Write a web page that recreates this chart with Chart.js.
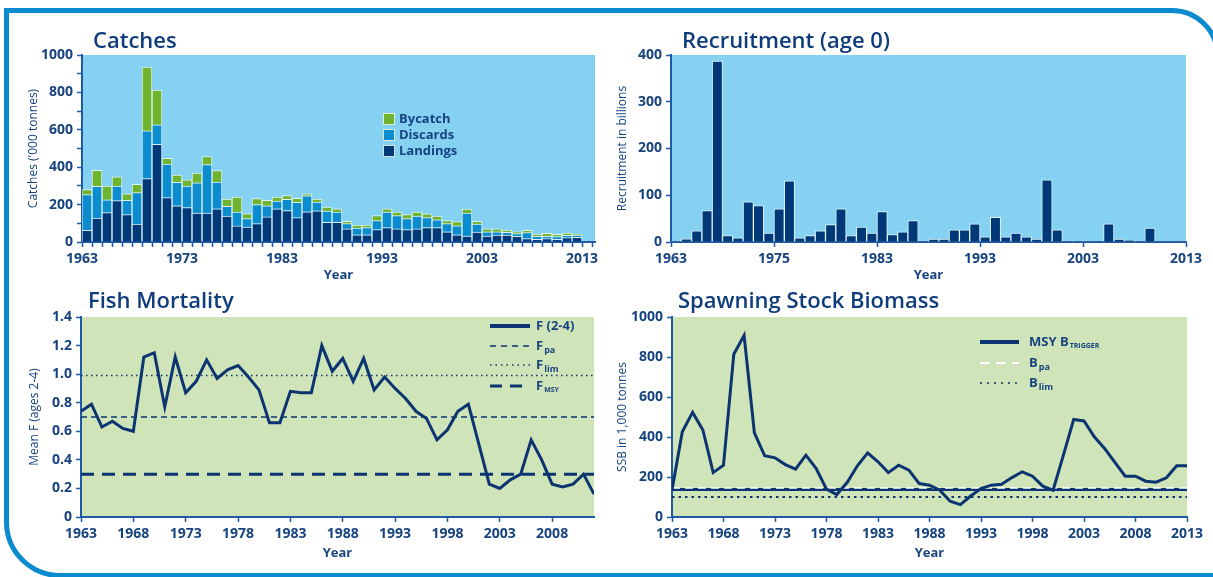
<!DOCTYPE html>
<html>
<head>
<meta charset="utf-8">
<title>Catches, recruitment, F and SSB</title>
<script src="https://cdn.jsdelivr.net/npm/chart.js@4.4.1/dist/chart.umd.min.js"></script>
<style>
  body { margin:0; background:#fff; width:1213px; height:577px; overflow:hidden; position:relative; }
  #marco { position:absolute; left:4px; top:8px; width:1216px; height:570px; box-sizing:border-box;
           border:5px solid #0a8bcf; border-radius:0 48px 0 56px; }
  canvas { position:absolute; }
</style>
</head>
<body>
<div id="marco"></div>
<canvas id="cCatches" width="600" height="275" style="left:10px;top:15px"></canvas>
<canvas id="cRecruit" width="608" height="275" style="left:605px;top:15px"></canvas>
<canvas id="cFish" width="600" height="285" style="left:10px;top:285px"></canvas>
<canvas id="cSsb" width="608" height="285" style="left:605px;top:285px"></canvas>
<script>
// años 1963-2012 (barras y F), SSB llega a 2013
const years = [1963,1964,1965,1966,1967,1968,1969,1970,1971,1972,1973,1974,1975,1976,1977,1978,1979,1980,1981,1982,
  1983,1984,1985,1986,1987,1988,1989,1990,1991,1992,1993,1994,1995,1996,1997,1998,1999,2000,2001,2002,
  2003,2004,2005,2006,2007,2008,2009,2010,2011,2012];
const ssbYears = [1963,1964,1965,1966,1967,1968,1969,1970,1971,1972,1973,1974,1975,1976,1977,1978,1979,1980,1981,1982,
  1983,1984,1985,1986,1987,1988,1989,1990,1991,1992,1993,1994,1995,1996,1997,1998,1999,2000,2001,2002,
  2003,2004,2005,2006,2007,2008,2009,2010,2011,2012,2013];

// capturas ('000 t)
const landings = [62,128,157,221,146,96,339,522,237,194,184,155,155,178,139,86,80,98,134,178,
  168,130,162,167,105,105,70,39,39,66,77,70,66,70,77,77,55,39,32,53,
  32,37,37,30,18,14,18,14,23,25];
const discards = [191,170,69,78,77,168,256,105,180,125,115,162,259,143,52,74,45,102,60,41,
  60,82,85,47,61,55,28,36,38,48,83,71,59,69,53,42,43,47,123,43,
  23,18,15,15,32,16,12,15,13,10];
const bycatch = [27,85,73,50,34,44,340,185,31,39,34,51,43,61,39,80,27,32,29,21,
  20,21,10,15,21,18,13,16,14,27,18,19,21,21,20,20,16,23,21,15,
  15,15,12,10,12,13,16,12,12,6];

// reclutamiento (billones)
const recruitment = [2,7,24,67,387,14,9,86,78,19,71,131,9,14,24,37,71,14,32,19,
  65,16,22,46,2,6,6,26,26,39,11,53,11,19,11,6,133,26,2,2,
  2,2,39,6,4,2,30,1,1,3];

// mortalidad por pesca
const fishF = [0.74,0.79,0.63,0.67,0.62,0.60,1.12,1.15,0.77,1.12,0.87,0.95,1.10,0.97,1.03,1.06,0.98,0.89,0.66,0.66,
  0.88,0.87,0.87,1.20,1.02,1.11,0.95,1.11,0.89,0.98,0.90,0.83,0.74,0.69,0.54,0.61,0.74,0.79,0.51,0.23,
  0.20,0.26,0.30,0.54,0.40,0.23,0.21,0.23,0.30,0.16];
const fPa = 0.7, fLim = 0.99, fMsy = 0.3;

// biomasa reproductora ('000 t)
const ssb = [134,426,523,435,222,259,814,908,421,306,296,262,239,309,242,139,112,172,256,321,
  276,222,259,234,167,159,134,79,62,105,142,159,164,197,226,204,154,134,309,488,
  480,401,343,273,204,204,179,174,196,256,256];
const bTrigger = 138, bPa = 145, bLim = 100;

// ticks
const catchYTicks = [0,100,200,300,400,500,600,700,800,900,1000];
const catchXTicks = [1963,1964,1965,1966,1967,1968,1969,1970,1971,1972,1973,1974,1975,1976,1977,1978,1979,1980,1981,1982,
  1983,1984,1985,1986,1987,1988,1989,1990,1991,1992,1993,1994,1995,1996,1997,1998,1999,2000,2001,2002,
  2003,2004,2005,2006,2007,2008,2009,2010,2011,2012,2013,2014];
const catchXLabels = [1963,1973,1983,1993,2003,2013];
const recYTicks = [0,100,200,300,400];
const recXTicks = [1963,1973,1983,1993,2003,2013];
const recXLabels = ['1963','1975','1983','1993','2003','2013'];
const fYTicks = [0,0.2,0.4,0.6,0.8,1.0,1.2,1.4];
const fXTicks = [1963,1968,1973,1978,1983,1988,1993,1998,2003,2008];
const ssbYTicks = [0,200,400,600,800,1000];
const ssbXTicks = [1963,1968,1973,1978,1983,1988,1993,1998,2003,2008,2013];

const NAVY = '#0b3470';
const AXIS = '#1f5aa6';
const TEXT = '#17437f';

Chart.defaults.font.family = "'Open Sans', sans-serif";
Chart.defaults.color = TEXT;
Chart.defaults.animation = false;
Chart.defaults.responsive = false;
Chart.defaults.plugins.legend.display = false;
Chart.defaults.plugins.tooltip.enabled = false;

// fondo del area, titulo y leyenda
const deco = {
  id: 'deco',
  beforeDraw(chart, args, o) {
    const {ctx, chartArea: a} = chart;
    ctx.save();
    ctx.fillStyle = o.bg;
    ctx.fillRect(a.left, a.top, a.right - a.left, a.bottom - a.top);
    ctx.restore();
  },
  afterDraw(chart, args, o) {
    const {ctx, chartArea: a} = chart;
    ctx.save();
    ctx.fillStyle = '#0f3c7a';
    ctx.font = "600 22px 'Open Sans'";
    ctx.textBaseline = 'middle';
    ctx.fillText(o.title, a.left + o.tx, o.ty);
    o.items.forEach((it, i) => {
      const y = a.top + o.ly[i];
      const x = a.left + o.lx;
      if (it.box) {
        ctx.fillStyle = it.box;
        ctx.fillRect(x, y - 6, 12, 12);
        ctx.strokeStyle = 'rgba(235,245,225,0.9)';
        ctx.lineWidth = 1;
        ctx.strokeRect(x + 0.5, y - 5.5, 11, 11);
      } else {
        ctx.strokeStyle = it.color;
        ctx.lineWidth = it.width;
        ctx.setLineDash(it.dash || []);
        ctx.beginPath();
        ctx.moveTo(x, y);
        ctx.lineTo(x + o.lw, y);
        ctx.stroke();
        ctx.setLineDash([]);
      }
      ctx.fillStyle = TEXT;
      ctx.font = "bold 13px 'Open Sans'";
      ctx.fillText(it.text, a.left + o.textX, y);
      if (it.sub) {
        const w = ctx.measureText(it.text).width;
        ctx.font = it.subFont || "bold 9px 'Open Sans'";
        ctx.fillText(it.sub, a.left + o.textX + w + 1, y + 4);
      }
    });
    ctx.restore();
  }
};

function ejeY(min, max, ticks, fmt, width, titleText, titlePad, apilado) {
  return {
    min: min, max: max, stacked: apilado,
    afterBuildTicks: s => { s.ticks = ticks.map(v => ({value: v})); },
    afterFit: s => { s.width = width; },
    ticks: { callback: fmt, autoSkip: false, font: {size: 14, weight: 'bold'}, padding: 4, color: TEXT },
    grid: { drawOnChartArea: false, tickLength: 5, tickColor: AXIS, tickWidth: 1.5 },
    border: { color: AXIS, width: 2 },
    title: { display: true, text: titleText, font: {size: 12}, color: TEXT, padding: {top: titlePad, bottom: 0} }
  };
}

function ejeX(min, max, ticks, fmt, height, titlePad, apilado) {
  return {
    type: 'linear', min: min, max: max, offset: false, stacked: apilado,
    afterBuildTicks: s => { s.ticks = ticks.map(v => ({value: v})); },
    afterFit: s => { s.height = height; },
    ticks: { callback: fmt, autoSkip: false, maxRotation: 0, minRotation: 0,
             font: {size: 14, weight: 'bold'}, padding: 4, color: TEXT },
    grid: { offset: false, drawOnChartArea: false, tickLength: 5, tickColor: AXIS, tickWidth: 1.5 },
    border: { color: AXIS, width: 2 },
    title: { display: true, text: 'Year', font: {size: 13, weight: 'bold'}, color: TEXT, padding: {top: 0, bottom: titlePad} }
  };
}

const barra = { barPercentage: 1, categoryPercentage: 1, borderWidth: 1, borderColor: 'rgba(255,255,255,0.75)' };

// 1. capturas
new Chart(document.getElementById('cCatches'), {
  type: 'bar',
  data: {
    datasets: [
      Object.assign({ label: 'Landings', backgroundColor: '#003878',
        data: years.map((y, i) => ({x: y + 0.5, y: landings[i]})) }, barra),
      Object.assign({ label: 'Discards', backgroundColor: '#0b8ccf',
        data: years.map((y, i) => ({x: y + 0.5, y: discards[i]})) }, barra),
      Object.assign({ label: 'Bycatch', backgroundColor: '#6fb42f',
        data: years.map((y, i) => ({x: y + 0.5, y: bycatch[i]})) }, barra)
    ]
  },
  options: {
    layout: { padding: {top: 40, right: 15, left: 0, bottom: 0} },
    scales: {
      x: ejeX(1963, 2014.3, catchXTicks, v => catchXLabels.includes(v) ? String(v) : '', 48, 7, true),
      y: ejeY(0, 1000, catchYTicks, v => v % 200 === 0 ? String(v) : '', 72, "Catches ('000 tonnes)", 16, true)
    },
    plugins: {
      deco: { bg: '#84d1f2', title: 'Catches', tx: 11, ty: 27, lx: 301, textX: 317, ly: [64, 80, 96],
        items: [ {box: '#6fb42f', text: 'Bycatch'}, {box: '#0b8ccf', text: 'Discards'}, {box: '#003878', text: 'Landings'} ] }
    }
  },
  plugins: [deco]
});

// 2. reclutamiento
new Chart(document.getElementById('cRecruit'), {
  type: 'bar',
  data: {
    datasets: [
      Object.assign({ label: 'Recruitment', backgroundColor: '#003878',
        data: years.map((y, i) => ({x: y + 0.5, y: recruitment[i]})) }, barra)
    ]
  },
  options: {
    layout: { padding: {top: 40, right: 27, left: 0, bottom: 0} },
    scales: {
      x: ejeX(1963, 2013, recXTicks, (v, i) => recXLabels[i], 48, 7, false),
      y: ejeY(0, 400, recYTicks, v => String(v), 66, 'Recruitment in billions', 10, false)
    },
    plugins: {
      deco: { bg: '#84d1f2', title: 'Recruitment (age 0)', tx: 11, ty: 27, items: [] }
    }
  },
  plugins: [deco]
});

// 3. mortalidad
new Chart(document.getElementById('cFish'), {
  type: 'line',
  data: {
    datasets: [
      { label: 'F (2-4)', data: years.map((y, i) => ({x: y, y: fishF[i]})),
        borderColor: NAVY, borderWidth: 3, pointRadius: 0, tension: 0 },
      { label: 'Fpa', data: [{x: years[0], y: fPa}, {x: years[years.length - 1], y: fPa}],
        borderColor: NAVY, borderWidth: 1.5, borderDash: [6, 4], pointRadius: 0 },
      { label: 'Flim', data: [{x: years[0], y: fLim}, {x: years[years.length - 1], y: fLim}],
        borderColor: NAVY, borderWidth: 1.5, borderDash: [1.5, 3.5], pointRadius: 0 },
      { label: 'FMSY', data: [{x: years[0], y: fMsy}, {x: years[years.length - 1], y: fMsy}],
        borderColor: NAVY, borderWidth: 3, borderDash: [13, 8], pointRadius: 0 }
    ]
  },
  options: {
    layout: { padding: {top: 32, right: 16, left: 0, bottom: 0} },
    scales: {
      x: ejeX(1963, 2012, fXTicks, v => String(v), 53, 9, false),
      y: ejeY(0, 1.4, fYTicks, v => v === 0 ? '0' : v.toFixed(1), 71, 'Mean F (ages 2-4)', 17, false)
    },
    plugins: {
      deco: { bg: '#cfe5b9', title: 'Fish Mortality', tx: 7, ty: 17, lx: 409, lw: 40, textX: 455, ly: [9, 29, 48, 69],
        items: [
          {color: NAVY, width: 4, text: 'F (2-4)'},
          {color: NAVY, width: 1.5, dash: [6, 5], text: 'F', sub: 'pa'},
          {color: NAVY, width: 1.5, dash: [1.5, 4], text: 'F', sub: 'lim'},
          {color: NAVY, width: 3, dash: [12, 8], text: 'F', sub: 'MSY', subFont: "bold 7px 'Open Sans'"}
        ] }
    }
  },
  plugins: [deco]
});

// 4. biomasa reproductora
new Chart(document.getElementById('cSsb'), {
  type: 'line',
  data: {
    datasets: [
      { label: 'SSB', data: ssbYears.map((y, i) => ({x: y, y: ssb[i]})),
        borderColor: NAVY, borderWidth: 3, pointRadius: 0, tension: 0 },
      { label: 'Bpa', data: [{x: ssbYears[0], y: bPa}, {x: ssbYears[ssbYears.length - 1], y: bPa}],
        borderColor: '#ffffff', borderWidth: 1.5, borderDash: [8, 5], pointRadius: 0 },
      { label: 'MSY Btrigger', data: [{x: ssbYears[0], y: bTrigger}, {x: ssbYears[ssbYears.length - 1], y: bTrigger}],
        borderColor: NAVY, borderWidth: 3, pointRadius: 0 },
      { label: 'Blim', data: [{x: ssbYears[0], y: bLim}, {x: ssbYears[ssbYears.length - 1], y: bLim}],
        borderColor: NAVY, borderWidth: 2, borderDash: [2.5, 4], pointRadius: 0 }
    ]
  },
  options: {
    layout: { padding: {top: 32, right: 26, left: 0, bottom: 0} },
    scales: {
      x: ejeX(1963, 2013, ssbXTicks, v => String(v), 53, 9, false),
      y: ejeY(0, 1000, ssbYTicks, v => String(v), 67, 'SSB in 1,000 tonnes', 10, false)
    },
    plugins: {
      deco: { bg: '#cfe5b9', title: 'Spawning Stock Biomass', tx: 6, ty: 17, lx: 308, lw: 39, textX: 357, ly: [25, 46, 66],
        items: [
          {color: NAVY, width: 4, text: 'MSY B', sub: 'TRIGGER', subFont: "bold 7px 'Open Sans'"},
          {color: '#ffffff', width: 2, dash: [10, 6], text: 'B', sub: 'pa'},
          {color: NAVY, width: 1.5, dash: [2, 5], text: 'B', sub: 'lim'}
        ] }
    }
  },
  plugins: [deco]
});
</script>
</body>
</html>
